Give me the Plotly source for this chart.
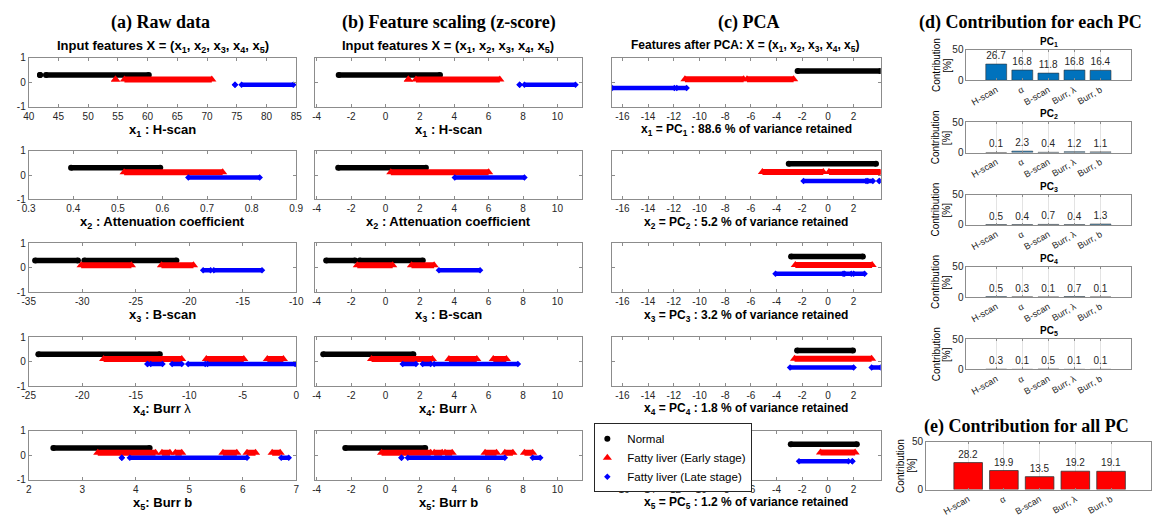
import plotly.graph_objects as go

W, H = 1165, 521
SANS = "Liberation Sans, Arial, Helvetica, sans-serif"
SERIF = "Liberation Serif, Times New Roman, serif"

# ---------------- data ----------------
CLASS_NAMES = ["Normal", "Fatty liver (Early stage)", "Fatty liver (Late stage)"]
CLASS_COLORS = ["#000000", "#ff0000", "#0000ff"]
CLASS_SYMBOLS = ["circle", "triangle-up", "diamond"]

# extents [start, end] of the dense runs of samples of each class, per feature
raw_normal = [
    [[41.9, 41.9], [42.9, 60.2]],
    [[0.395, 0.595]],
    [[-34.4, -30.4], [-29.8, -21.2]],
    [[-24.1, -12.75]],
    [[2.46, 4.26]],
]
raw_early = [
    [[54.6, 54.6], [56.1, 70.8]],
    [[0.514, 0.735]],
    [[-30.1, -25.4], [-22.6, -19.6]],
    [[-18.0, -10.7], [-8.4, -4.9], [-2.7, -1.2]],
    [[3.29, 4.37], [4.49, 4.64], [4.74, 4.86], [5.63, 5.89], [6.08, 6.24], [6.55, 6.7]],
]
raw_late = [
    [[74.7, 74.7], [75.8, 84.5]],
    [[0.658, 0.818]],
    [[-18.7, -18.0], [-17.7, -13.2]],
    [[-13.9, -13.9], [-13.6, -12.5], [-11.6, -10.7], [-10.1, -8.5], [-8.3, -0.1]],
    [[3.74, 3.74], [3.89, 6.08], [6.72, 6.86]],
]

z_normal = [
    [[-2.72, 3.17]],
    [[-2.75, 2.35]],
    [[-3.45, -1.77], [-1.5, 2.17]],
    [[-3.62, 1.62]],
    [[-2.34, 2.31]],
]
z_early = [
    [[1.33, 1.33], [1.77, 6.65]],
    [[0.31, 6.0]],
    [[-1.64, 0.42], [1.51, 2.83]],
    [[-0.81, 2.73], [3.69, 5.31], [6.27, 7.03]],
    [[-0.23, 2.63], [2.83, 3.3], [3.46, 3.88], [5.79, 6.46], [6.94, 7.41], [8.08, 8.56]],
]
z_late = [
    [[7.8, 7.8], [8.08, 11.05]],
    [[4.03, 8.08]],
    [[3.11, 5.5]],
    [[1.0, 1.77], [2.16, 2.63], [2.83, 7.7]],
    [[0.93, 0.93], [1.3, 6.94], [8.56, 9.0]],
]

pca_normal = [
    [[-2.36, 4.1]],
    [[-3.05, 3.74]],
    [[-2.87, 2.72]],
    [[-2.4, 1.95]],
    [[-2.89, 2.25]],
]
pca_early = [
    [[-11.13, -6.56], [-6.3, -2.67]],
    [[-5.1, -0.36], [0.08, 4.2]],
    [[-2.54, 3.44]],
    [[-2.6, 3.4]],
    [[-0.58, 2.12]],
]
pca_late = [
    [[-16.8, -11.95], [-11.77, -11.0]],
    [[-1.9, 2.97], [3.1, 3.5], [4.0, 4.0]],
    [[-4.08, 1.18], [1.3, 1.82], [2.0, 2.85]],
    [[-2.95, 2.0], [3.4, 4.1]],
    [[-2.25, 1.6], [1.9, 1.9]],
]

RAW_RANGES = [[40, 85], [0.3, 0.9], [-35, -10], [-25, 0], [2, 7]]
RAW_TICKS = [
    [40, 45, 50, 55, 60, 65, 70, 75, 80, 85],
    [0.3, 0.4, 0.5, 0.6, 0.7, 0.8, 0.9],
    [-35, -30, -25, -20, -15, -10],
    [-25, -20, -15, -10, -5, 0],
    [2, 3, 4, 5, 6, 7],
]
Z_RANGE = [-4.1, 11.4]
Z_TICKS = [-4, -2, 0, 2, 4, 6, 8, 10]
PCA_RANGE = [-16.8, 4.1]
PCA_TICKS = [-16, -14, -12, -10, -8, -6, -4, -2, 0, 2]
Y_TICKS = [-1, 0, 1]

FEATURE_LABELS = [
    "<b>x<sub>1</sub> : H-scan</b>",
    "<b>x<sub>2</sub> : Attenuation coefficient</b>",
    "<b>x<sub>3</sub> : B-scan</b>",
    "<b>x<sub>4</sub>: Burr</b> λ",
    "<b>x<sub>5</sub>: Burr b</b>",
]
PCA_VARIANCE = [88.6, 5.2, 3.2, 1.8, 1.2]

CATEGORIES = ["H-scan", "α", "B-scan", "Burr, λ", "Burr, b"]
PC_CONTRIB = [
    [26.7, 16.8, 11.8, 16.8, 16.4],
    [0.1, 2.3, 0.4, 1.2, 1.1],
    [0.5, 0.4, 0.7, 0.4, 1.3],
    [0.5, 0.3, 0.1, 0.7, 0.1],
    [0.3, 0.1, 0.5, 0.1, 0.1],
]
ALL_CONTRIB = [28.2, 19.9, 13.5, 19.2, 19.1]

# ---------------- layout helpers ----------------
fig = go.Figure()
layout_axes = {}
annotations = []
axis_count = [0]

AX_COLOR = "#8c8c8c"
TICK_FONT = dict(family=SANS, size=10, color="#262626")


def new_axes(x0, x1, y0, y1, xopts, yopts):
    axis_count[0] += 1
    i = axis_count[0]
    sfx = "" if i == 1 else str(i)
    layout_axes["xaxis" + sfx] = dict(domain=[x0 / W, x1 / W], anchor="y" + sfx, **xopts)
    layout_axes["yaxis" + sfx] = dict(domain=[1 - y1 / H, 1 - y0 / H], anchor="x" + sfx, **yopts)
    return "x" + sfx, "y" + sfx


def text(px, py, s, size, family=SANS, color="#000000", angle=0, xanchor="center", yanchor="middle"):
    annotations.append(dict(x=px / W, y=1 - py / H, xref="paper", yref="paper", text=s,
                            showarrow=False, font=dict(size=size, family=family, color=color),
                            textangle=angle, xanchor=xanchor, yanchor=yanchor))


def fmt(v):
    return f"{v:g}"


base_axis = dict(showline=True, linecolor=AX_COLOR, linewidth=1, mirror="allticks",
                 ticks="inside", ticklen=3, tickcolor=AX_COLOR, showgrid=False,
                 zeroline=False, tickfont=TICK_FONT, fixedrange=True)

MARKER_SIZES = [6, 8, 5]
BAND_WIDTHS = [5.5, 6, 4.5]

legend_done = [False]


def add_strip(xr, yr, class_segs, yvals):
    for c in range(3):
        segs = class_segs[c]
        xs, ys, mx, my = [], [], [], []
        for a, b in segs:
            xs += [a, b, None]
            ys += [yvals[c], yvals[c], None]
            mx += [a, b]
            my += [yvals[c], yvals[c]]
        fig.add_trace(go.Scatter(x=xs, y=ys, xaxis=xr, yaxis=yr, mode="lines",
                                 line=dict(color=CLASS_COLORS[c], width=BAND_WIDTHS[c]),
                                 showlegend=False, hoverinfo="skip"))
        fig.add_trace(go.Scatter(x=mx, y=my, xaxis=xr, yaxis=yr, mode="markers",
                                 marker=dict(color=CLASS_COLORS[c], symbol=CLASS_SYMBOLS[c],
                                             size=MARKER_SIZES[c], line=dict(width=0)),
                                 name=CLASS_NAMES[c], showlegend=not legend_done[0],
                                 hoverinfo="skip"))
    legend_done[0] = True


ROW_TOPS = [53, 148, 243, 339, 435]
ROW_H = 50
COL_A = (22, 293)
COL_B = (312, 582)
COL_C = (613, 885)
Y_AB = [0.3, 0.11, -0.1]
Y_C = [0.46, 0.12, -0.24]

# column titles
text(156, 17, "<b>(a) Raw data</b>", 18, SERIF)
text(448, 17, "<b>(b) Feature scaling (z-score)</b>", 18, SERIF)
text(751, 17, "<b>(c) PCA</b>", 18, SERIF)
text(1037, 17, "<b>(d) Contribution for each PC</b>", 18, SERIF)
text(1033, 430, "<b>(e) Contribution for all PC</b>", 18, SERIF)
text(158, 41, "<b>Input features X = (x<sub>1</sub>, x<sub>2</sub>, x<sub>3</sub>, x<sub>4</sub>, x<sub>5</sub>)</b>", 13)
text(447, 41, "<b>Input features X = (x<sub>1</sub>, x<sub>2</sub>, x<sub>3</sub>, x<sub>4</sub>, x<sub>5</sub>)</b>", 13)
text(748, 41, "<b>Features after PCA: X = (x<sub>1</sub>, x<sub>2</sub>, x<sub>3</sub>, x<sub>4</sub>, x<sub>5</sub>)</b>", 12)

ydef_labels = dict(base_axis, range=[-1, 1], tickvals=Y_TICKS, ticktext=[fmt(v) for v in Y_TICKS])
ydef_nolabels = dict(base_axis, range=[-1, 1], tickvals=Y_TICKS, showticklabels=False)

for r in range(5):
    top = ROW_TOPS[r]
    bot = top + ROW_H
    # (a) raw
    xr, yr = new_axes(COL_A[0], COL_A[1], top, bot,
                      dict(base_axis, range=RAW_RANGES[r], tickvals=RAW_TICKS[r],
                           ticktext=[fmt(v) for v in RAW_TICKS[r]]),
                      ydef_labels)
    add_strip(xr, yr, [raw_normal[r], raw_early[r], raw_late[r]], Y_AB)
    text((COL_A[0] + COL_A[1]) / 2, bot + 24, FEATURE_LABELS[r], 13)
    # (b) z-score
    xr, yr = new_axes(COL_B[0], COL_B[1], top, bot,
                      dict(base_axis, range=Z_RANGE, tickvals=Z_TICKS,
                           ticktext=[fmt(v) for v in Z_TICKS]),
                      ydef_nolabels)
    add_strip(xr, yr, [z_normal[r], z_early[r], z_late[r]], Y_AB)
    text((COL_B[0] + COL_B[1]) / 2, bot + 24, FEATURE_LABELS[r], 13)
    # (c) PCA
    xr, yr = new_axes(COL_C[0], COL_C[1], top, bot,
                      dict(base_axis, range=PCA_RANGE, tickvals=PCA_TICKS,
                           ticktext=[fmt(v) for v in PCA_TICKS]),
                      ydef_nolabels)
    add_strip(xr, yr, [pca_normal[r], pca_early[r], pca_late[r]], Y_C)
    text((COL_C[0] + COL_C[1]) / 2, bot + 24,
         f"<b>x<sub>{r + 1}</sub> = PC<sub>{r + 1}</sub> : {PCA_VARIANCE[r]} % of variance retained</b>", 12)

# (d) contribution for each PC
D_X = (972, 1139)
D_TOPS = [45, 119, 193, 267, 341]
D_H = 31
BAR_TICK_FONT = dict(family=SANS, size=9, color="#262626")
bar_x = dict(base_axis, type="category", tickangle=-30, tickfont=BAR_TICK_FONT,
             showgrid=True, gridcolor="#e3e3e3", gridwidth=1, ticklen=2)
bar_y = dict(base_axis, range=[0, 50], tickvals=[0, 50], ticktext=["0", "50"],
             tickfont=dict(family=SANS, size=10, color="#262626"))

for k in range(5):
    top = D_TOPS[k]
    bot = top + D_H
    xr, yr = new_axes(D_X[0], D_X[1], top, bot, dict(bar_x, range=[-1.14, 5.18]), bar_y)
    fig.add_trace(go.Bar(x=CATEGORIES, y=PC_CONTRIB[k], xaxis=xr, yaxis=yr, width=0.8,
                         marker=dict(color="#0072BD", line=dict(color="#333333", width=0.6)),
                         text=[f"{v:.1f}" for v in PC_CONTRIB[k]], textposition="outside",
                         textfont=dict(family=SANS, size=10, color="#262626"),
                         constraintext="none", cliponaxis=False, showlegend=False,
                         hoverinfo="skip"))
    text((D_X[0] + D_X[1]) / 2, top - 8, f"<b>PC<sub>{k + 1}</sub></b>", 10)
    text(941, top + D_H / 2, "Contribution", 10, angle=-90)
    text(952, top + D_H / 2, "[%]", 10, angle=-90)

# (e) contribution for all PC
E_X = (931, 1159)
E_TOP, E_BOT = 446, 495
xr, yr = new_axes(E_X[0], E_X[1], E_TOP, E_BOT, dict(bar_x, range=[-1.18, 5.12]), bar_y)
fig.add_trace(go.Bar(x=CATEGORIES, y=ALL_CONTRIB, xaxis=xr, yaxis=yr, width=0.8,
                     marker=dict(color="#ff0000", line=dict(color="#333333", width=0.8)),
                     text=[f"{v:.1f}" for v in ALL_CONTRIB], textposition="outside",
                     textfont=dict(family=SANS, size=10, color="#262626"),
                     constraintext="none", cliponaxis=False, showlegend=False,
                     hoverinfo="skip"))
text(905, (E_TOP + E_BOT) / 2, "Contribution", 10, angle=-90)
text(916, (E_TOP + E_BOT) / 2, "[%]", 10, angle=-90)

fig.update_layout(
    width=W, height=H, margin=dict(l=0, r=0, t=0, b=0),
    paper_bgcolor="white", plot_bgcolor="white",
    font=dict(family=SANS, color="#000000"),
    showlegend=True,
    legend=dict(x=595 / W, y=1 - 427 / H, xanchor="left", yanchor="top",
                bgcolor="white", bordercolor="#262626", borderwidth=1,
                font=dict(family=SANS, size=11.5, color="#000000"),
                tracegroupgap=0, itemwidth=30, indentation=-8),
    annotations=annotations,
    bargap=0.2,
    **layout_axes,
)

fig.write_html("out.html")
